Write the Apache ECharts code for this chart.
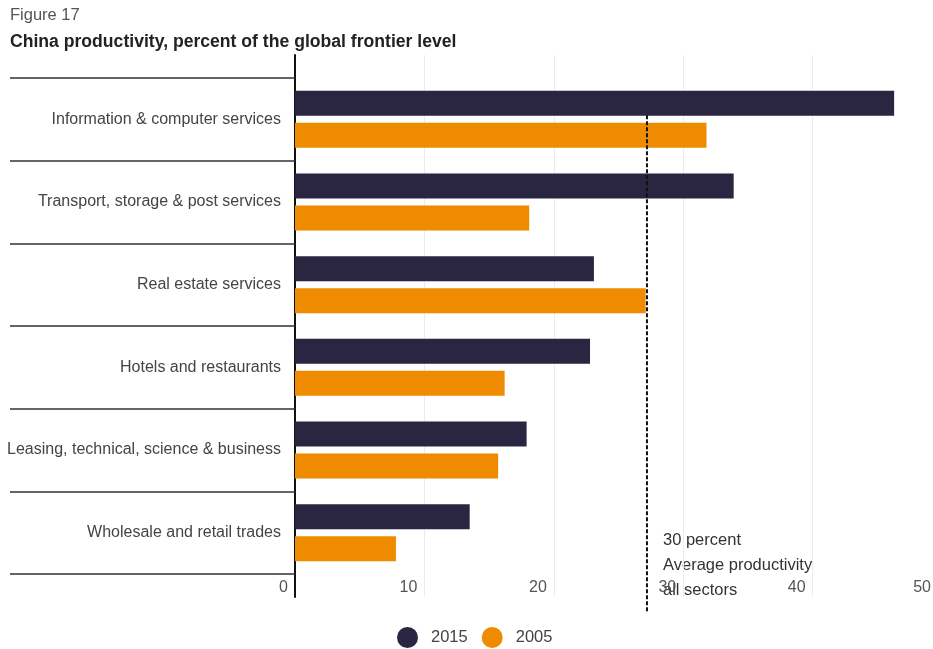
<!DOCTYPE html>
<html>
<head>
<meta charset="utf-8">
<script src="https://cdn.jsdelivr.net/npm/echarts@6/dist/echarts.min.js"></script>
<style>
html,body{margin:0;padding:0;background:#fff;overflow:hidden;}
#chart{width:960px;height:649px;}
</style>
</head>
<body>
<div id="chart"></div>
<script>
const categories = [
  'Information & computer services',
  'Transport, storage & post services',
  'Real estate services',
  'Hotels and restaurants',
  'Leasing, technical, science & business',
  'Wholesale and retail trades'
];
const values2015 = [46.3, 33.9, 23.1, 22.8, 17.9, 13.5];
const values2005 = [31.8, 18.1, 27.1, 16.2, 15.7, 7.8];
const avgAllSectors = 27.2;
const xTicks = [0, 10, 20, 30, 40, 50];
const annotationLines = ['30 percent', 'Average productivity', 'all sectors'];

const FONT = '"Liberation Sans", Arial, sans-serif';
const chart = echarts.init(document.getElementById('chart'));

chart.setOption({
  backgroundColor: '#fff',
  animation: false,
  textStyle: {fontFamily: FONT},
  title: [
    {text: 'Figure 17', left: 10, top: 7, padding: 0, textStyle: {fontSize: 16.5, fontWeight: 'normal', color: '#555', fontFamily: FONT}},
    {text: 'China productivity, percent of the global frontier level', left: 10, top: 33, padding: 0, textStyle: {fontSize: 17.6, fontWeight: 'bold', color: '#222', fontFamily: FONT}}
  ],
  legend: {
    data: ['2015', '2005'],
    left: 397, top: 627, padding: 0,
    icon: 'circle', itemWidth: 21, itemHeight: 21, itemGap: 14,
    textStyle: {fontSize: 16.5, color: '#444', fontFamily: FONT, padding: [0, 0, 0, 8]}
  },
  grid: [
    {left: 295, right: 18, top: 55, bottom: 52},
    {left: 295, right: 18, top: 78, bottom: 75}
  ],
  xAxis: [
    {type: 'value', gridIndex: 0, min: xTicks[0], max: xTicks[xTicks.length - 1], interval: 10,
     axisLine: {show: false}, axisTick: {show: false}, axisLabel: {show: false},
     splitLine: {show: true, lineStyle: {color: '#ebebeb', width: 1}}},
    {type: 'value', gridIndex: 1, min: xTicks[0], max: xTicks[xTicks.length - 1], interval: 10,
     axisLine: {show: false}, axisTick: {show: false}, splitLine: {show: false},
     axisLabel: {show: true, align: 'right', margin: 6, padding: [0, 7, 0, 0], fontSize: 16, color: '#555', fontFamily: FONT,
       formatter: v => xTicks.indexOf(v) < 0 ? '' : (v === xTicks[xTicks.length - 1] ? '{e|' + v + '}' : String(v)),
       rich: {e: {fontSize: 16, color: '#555', fontFamily: FONT, padding: [0, 4, 0, 0]}}}}
  ],
  yAxis: [
    {type: 'value', gridIndex: 0, min: 0, max: 100, axisLabel: {show: false}, axisTick: {show: false}, splitLine: {show: false},
     axisLine: {show: true, lineStyle: {color: '#111', width: 2}}},
    {type: 'category', gridIndex: 1, data: categories, inverse: true,
     axisLine: {show: false},
     axisTick: {show: true, length: 285, lineStyle: {color: '#333', width: 1.5}},
     axisLabel: {margin: 14, fontSize: 16, color: '#444', fontFamily: FONT},
     splitLine: {show: false}}
  ],
  series: [
    {name: '2015', type: 'bar', xAxisIndex: 1, yAxisIndex: 1, data: values2015, barWidth: 25, barGap: '28%',
     itemStyle: {color: '#2a2541'}},
    {name: '2005', type: 'bar', xAxisIndex: 1, yAxisIndex: 1, data: values2005, barWidth: 25, barGap: '28%',
     itemStyle: {color: '#ef8b00'}},
    {name: 'avg', type: 'line', xAxisIndex: 0, yAxisIndex: 0, silent: true, clip: false, z: 5,
     symbol: 'none', data: [[avgAllSectors, 88.9], [avgAllSectors, -2.8]],
     lineStyle: {type: [4, 2], color: '#111', width: 2}}
  ],
  graphic: annotationLines.map((t, i) => ({
    type: 'text', left: 663, top: 532 + i * 25,
    style: {text: t, fontSize: 16.5, fill: '#333', fontFamily: FONT}
  }))
});
</script>
</body>
</html>
